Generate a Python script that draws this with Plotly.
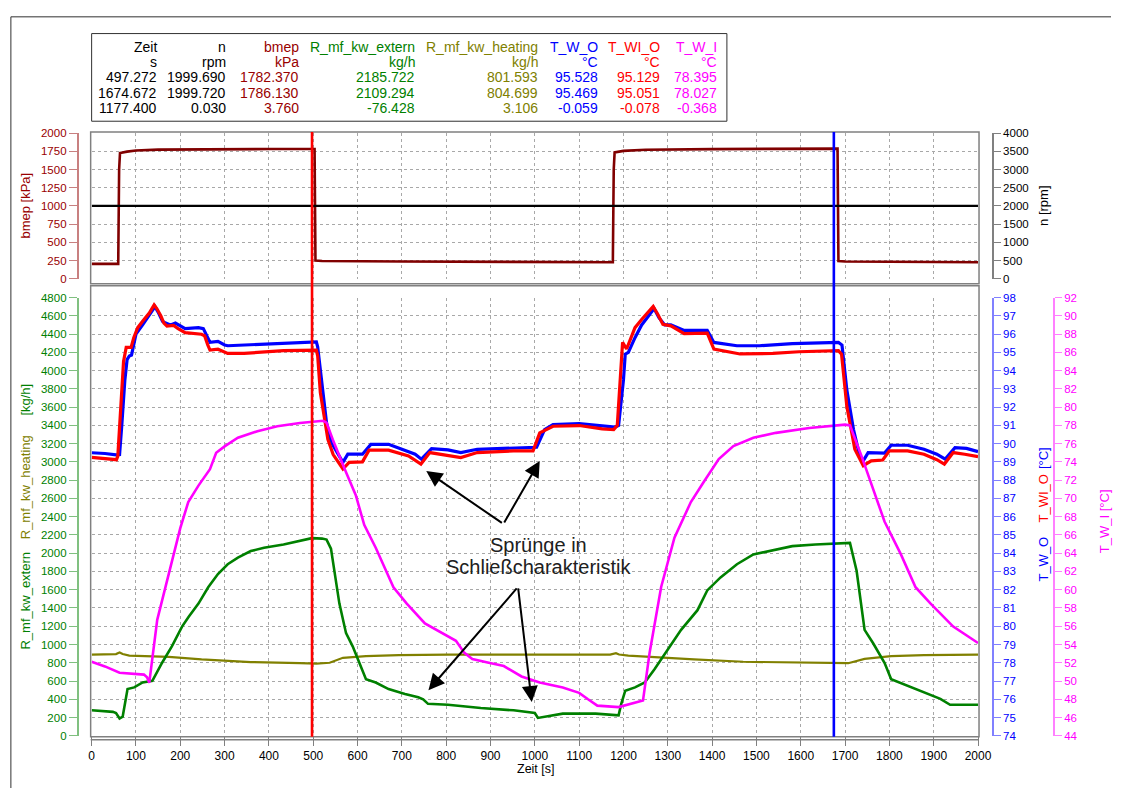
import plotly.graph_objects as go

W, H = 1125, 794

def px_x(p):
    return p / W

def px_y(p):
    return 1 - p / H

# ---------------- data ----------------
# cursors (Zeit [s])
cursor_times = [497.272, 1674.672]

# table
tab_names = ["Zeit", "n", "bmep", "R_mf_kw_extern", "R_mf_kw_heating", "T_W_O", "T_WI_O", "T_W_I"]
tab_units = ["s", "rpm", "kPa", "kg/h", "kg/h", "°C", "°C", "°C"]
tab_cursor1 = [497.272, 1999.690, 1782.370, 2185.722, 801.593, 95.528, 95.129, 78.395]
tab_cursor2 = [1674.672, 1999.720, 1786.130, 2109.294, 804.699, 95.469, 95.051, 78.027]
tab_diff = [1177.400, 0.030, 3.760, -76.428, 3.106, -0.059, -0.078, -0.368]

# n [rpm]
n_t = [0, 500, 1000, 1500, 2000]
n_v = [2000, 2000, 2000, 2000, 2000]

# bmep [kPa]
bmep_t = [0, 60, 62, 64, 80, 100, 150, 250, 400, 500, 503, 505, 520, 700, 1000, 1176,
          1178, 1180, 1200, 1250, 1400, 1680, 1683, 1685, 1700, 2000]
bmep_v = [205, 205, 1500, 1725, 1745, 1760, 1772, 1778, 1781, 1782, 1782, 250, 245, 238, 232, 228,
          1500, 1735, 1755, 1770, 1780, 1786, 1786, 245, 238, 228]

# T_W_O [°C]
two_t = [0, 30, 55, 63, 68, 75, 80, 85, 90, 100, 115, 130, 143, 150, 160, 167, 178, 189, 200, 211,
         241, 252, 260, 267, 285, 300, 307, 344, 396, 433, 507, 510, 521, 530, 541, 559, 567, 578,
         611, 630, 670, 700, 730, 744, 767, 804, 833, 870, 915, 989, 1004, 1022, 1041, 1100, 1152,
         1181, 1189, 1200, 1204, 1211, 1226, 1241, 1256, 1269, 1280, 1293, 1307, 1337, 1389, 1404,
         1456, 1507, 1581, 1685, 1693, 1704, 1719, 1733, 1741, 1752, 1789, 1804, 1841, 1878, 1907,
         1926, 1948, 1974, 2000]
two_v = [89.50, 89.46, 89.38, 89.40, 91.0, 93.5, 94.6, 94.8, 94.85, 96.0, 96.5, 97.06, 97.5, 97.2,
         96.7, 96.6, 96.5, 96.6, 96.45, 96.3, 96.35, 96.3, 95.9, 95.55, 95.6, 95.4, 95.36, 95.4,
         95.45, 95.52, 95.57, 95.3, 92.93, 91.13, 90.05, 89.33, 88.97, 89.42, 89.42, 89.96, 89.96,
         89.69, 89.42, 89.15, 89.73, 89.66, 89.51, 89.69, 89.72, 89.78, 89.8, 90.77, 91.04, 91.09,
         90.99, 90.91, 91.0, 93.5, 94.9, 95.0, 95.8, 96.5, 96.97, 97.4, 96.9, 96.5, 96.5, 96.2, 96.2,
         95.54, 95.36, 95.36, 95.48, 95.54, 95.4, 92.93, 90.77, 89.33, 89.06, 89.51, 89.48, 89.91,
         89.91, 89.69, 89.42, 89.15, 89.78, 89.74, 89.56]

# T_WI_O [°C]
twio_t = [0, 30, 56, 59, 65, 72, 78, 89, 95, 104, 115, 130, 141, 147, 156, 163, 170, 185, 195, 211,
          248, 255, 262, 267, 285, 300, 307, 344, 396, 433, 507, 510, 516, 525, 533, 545, 556, 567,
          581, 611, 626, 670, 715, 743, 763, 804, 833, 870, 952, 996, 1011, 1041, 1100, 1152, 1178,
          1186, 1198, 1207, 1226, 1241, 1267, 1277, 1289, 1307, 1337, 1389, 1404, 1463, 1537, 1596,
          1685, 1692, 1704, 1722, 1741, 1759, 1785, 1800, 1841, 1878, 1907, 1924, 1944, 1970, 2000]
twio_v = [89.25, 89.2, 89.12, 89.3, 92.0, 94.5, 95.27, 95.27, 95.8, 96.35, 96.7, 97.15, 97.6, 97.4,
          97.0, 96.6, 96.43, 96.47, 96.3, 96.08, 95.99, 95.9, 95.4, 95.12, 95.17, 95.0, 94.94, 94.94,
          95.03, 95.09, 95.12, 94.8, 92.8, 91.3, 90.23, 89.4, 88.97, 88.61, 88.97, 89.0, 89.64, 89.64,
          89.33, 88.88, 89.51, 89.33, 89.24, 89.51, 89.6, 89.6, 90.59, 90.95, 90.99, 90.81, 90.77,
          91.0, 95.54, 95.18, 96.35, 96.8, 97.51, 97.1, 96.53, 96.45, 96.02, 96.05, 95.18, 94.91,
          94.94, 95.03, 95.09, 94.9, 92.03, 89.69, 88.79, 89.06, 89.1, 89.6, 89.6, 89.42, 89.12,
          88.88, 89.51, 89.42, 89.29]

# T_W_I [°C]
twi_t = [0, 30, 63, 100, 118, 125, 130, 148, 167, 181, 200, 218, 241, 267, 281, 300, 330, 374, 419,
         470, 522, 530, 544, 574, 596, 615, 641, 681, 711, 752, 804, 822, 841, 859, 896, 930, 970,
         1011, 1063, 1100, 1120, 1141, 1189, 1244, 1259, 1285, 1315, 1352, 1381, 1415, 1448, 1493,
         1544, 1619, 1700, 1711, 1737, 1763, 1789, 1826, 1859, 1893, 1944, 2000]
twi_v = [52.1, 51.6, 50.9, 50.75, 50.7, 50.4, 49.8, 56.7, 60.3, 63.15, 66.75, 69.6, 71.4, 73.2,
         75.0, 75.7, 76.64, 77.36, 77.9, 78.26, 78.5, 78.3, 76.46, 72.86, 70.35, 67.1, 64.6, 60.27,
         58.47, 56.3, 54.88, 54.4, 53.08, 52.4, 52.0, 51.64, 50.5, 49.84, 49.3, 48.7, 48.0, 47.3,
         47.14, 47.86, 53.1, 60.3, 65.7, 69.6, 71.8, 74.3, 75.74, 76.64, 77.18, 77.72, 78.08, 78.0,
         74.66, 71.06, 67.47, 63.87, 60.27, 58.47, 55.96, 54.16]

# R_mf_kw_extern [kg/h]
ext_t = [0, 33, 48, 55, 63, 70, 81, 96, 115, 137, 159, 181, 204, 219, 241, 263, 285, 307, 330, 359,
         389, 433, 470, 497, 520, 530, 540, 548, 559, 574, 589, 604, 619, 641, 670, 707, 737, 748,
         759, 804, 878, 952, 989, 1000, 1007, 1063, 1137, 1189, 1195, 1204, 1226, 1248, 1270, 1300,
         1330, 1367, 1389, 1419, 1456, 1493, 1530, 1581, 1633, 1693, 1711, 1726, 1744, 1763, 1789,
         1804, 1841, 1878, 1915, 1937, 2000]
ext_v = [279, 268, 262, 250, 189, 210, 512, 530, 584, 602, 800, 980, 1196, 1304, 1448, 1627, 1771,
         1879, 1951, 2023, 2059, 2095, 2131, 2165, 2160, 2149, 2050, 1807, 1448, 1124, 980, 800, 620,
         584, 512, 458, 422, 400, 350, 340, 304, 279, 261, 250, 196, 243, 243, 225, 350, 494, 530,
         584, 728, 944, 1160, 1376, 1592, 1735, 1879, 1987, 2023, 2077, 2095, 2113, 2113, 1807,
         1160, 1016, 800, 620, 548, 476, 404, 340, 340]

# R_mf_kw_heating [kg/h]
heat_t = [0, 55, 63, 70, 85, 174, 248, 359, 470, 507, 537, 567, 619, 693, 804, 1011, 1170, 1183,
          1190, 1211, 1285, 1359, 1470, 1581, 1685, 1707, 1744, 1804, 1878, 2000]
heat_v = [890, 895, 912, 895, 879, 865, 836, 807, 797, 790, 800, 854, 872, 883, 890, 890, 890, 905,
          890, 879, 854, 836, 811, 800, 790, 795, 843, 872, 883, 890]

# axis ranges
x_range = [0, 2000]
kg_range = [0, 4800]
two_range = [74, 98]
twi_range = [44, 92]
bmep_range = [0, 2000]
n_range = [0, 4000]

# ---------------- styling ----------------
FONT = "Liberation Sans, Arial, sans-serif"
DRED = "#990000"
DRED_LINE = "#800000"
GREEN = "#008000"
OLIVE = "#808000"
BLUE = "#0000ff"
RED = "#ff0000"
MAG = "#ff00ff"
GRID = "#a8a8a8"
FRAME = "#808080"

fig = go.Figure()

fig.add_trace(go.Scatter(x=heat_t, y=heat_v, xaxis="x", yaxis="y", mode="lines",
                         line=dict(color=OLIVE, width=2.2)))
fig.add_trace(go.Scatter(x=ext_t, y=ext_v, xaxis="x", yaxis="y", mode="lines",
                         line=dict(color=GREEN, width=2.6)))
fig.add_trace(go.Scatter(x=two_t, y=two_v, xaxis="x", yaxis="y2", mode="lines",
                         line=dict(color=BLUE, width=3.2)))
fig.add_trace(go.Scatter(x=twio_t, y=twio_v, xaxis="x", yaxis="y2", mode="lines",
                         line=dict(color=RED, width=3.2)))
fig.add_trace(go.Scatter(x=twi_t, y=twi_v, xaxis="x", yaxis="y3", mode="lines",
                         line=dict(color=MAG, width=2.6)))
fig.add_trace(go.Scatter(x=n_t, y=n_v, xaxis="x2", yaxis="y5", mode="lines",
                         line=dict(color="black", width=2.2)))
fig.add_trace(go.Scatter(x=bmep_t, y=bmep_v, xaxis="x2", yaxis="y4", mode="lines",
                         line=dict(color=DRED_LINE, width=2.6)))

xdom = [px_x(90), px_x(990)]
grid_kw = dict(showgrid=True, gridcolor=GRID, gridwidth=1, griddash="3px,3px", zeroline=False)

def yax(rng, dtick, pos, side, col, linecol, grid=False, **kw):
    d = dict(range=rng, dtick=dtick, tick0=rng[0], anchor="free",
             position=pos, side=side, ticks="outside", ticklen=8, tickwidth=1.3,
             tickcolor=linecol, showline=True, linecolor=linecol, linewidth=2,
             tickfont=dict(family=FONT, size=11.5, color=col), zeroline=False)
    if grid:
        d.update(grid_kw)
    else:
        d["showgrid"] = False
    d.update(kw)
    return d

fig.update_layout(
    width=W, height=H, margin=dict(l=0, r=0, t=0, b=0),
    paper_bgcolor="white", plot_bgcolor="white", showlegend=False,
    font=dict(family=FONT, size=12, color="black"),
    xaxis=dict(domain=xdom, range=x_range, anchor="y", dtick=100, tick0=0, ticks="outside",
               ticklen=9, tickcolor=FRAME, tickwidth=1.3, showline=False,
               tickfont=dict(family=FONT, size=12, color="black"), **grid_kw),
    xaxis2=dict(domain=xdom, range=x_range, anchor="y4", dtick=100, tick0=0, ticks="",
                showticklabels=False, showline=False, **grid_kw),
    yaxis=yax(kg_range, 200, px_x(76), "left", GREEN, "#80c080", grid=True,
              domain=[px_y(741), px_y(296)]),
    yaxis2=yax(two_range, 1, px_x(1005), "right", BLUE, "#8080ff", overlaying="y", ticklen=7),
    yaxis3=yax(twi_range, 2, px_x(1067), "right", MAG, "#ff80ff", overlaying="y", ticklen=7),
    yaxis4=yax(bmep_range, 250, px_x(76), "left", DRED, "#c88080", grid=True,
               domain=[px_y(277), px_y(129)]),
    yaxis5=yax(n_range, 500, px_x(1005), "right", "black", "#808080", overlaying="y4", ticklen=7),
)

shapes = []
def pline(x0, y0, x1, y1, color, width):
    shapes.append(dict(type="line", xref="paper", yref="paper", x0=px_x(x0), y0=px_y(y0),
                       x1=px_x(x1), y1=px_y(y1), line=dict(color=color, width=width)))

def prect(x0, y0, x1, y1, color, width):
    shapes.append(dict(type="rect", xref="paper", yref="paper", x0=px_x(x0), y0=px_y(y0),
                       x1=px_x(x1), y1=px_y(y1), line=dict(color=color, width=width)))

# outer frame
pline(8, 11, 1125, 11, "#303030", 1)
pline(8, 11, 8, 794, "#303030", 1)
# table box
prect(90, 28, 735, 117, "#303030", 1)
# panel frames
prect(89, 128, 991, 282, FRAME, 1.5)
prect(89, 284, 991, 742, FRAME, 1.5)
# x axis line
pline(89, 745, 991, 745, FRAME, 1.5)

# cursors
for ct, col in zip(cursor_times, [RED, BLUE]):
    shapes.append(dict(type="line", xref="x", yref="paper", x0=ct, x1=ct,
                       y0=px_y(742), y1=px_y(128), line=dict(color=col, width=2.6)))

fig.update_layout(shapes=shapes)

ann = []
def ptext(x, y, text, color, size=13, angle=0, xanchor="center"):
    ann.append(dict(xref="paper", yref="paper", x=px_x(x), y=px_y(y), text=text, showarrow=False,
                    textangle=angle, xanchor=xanchor, yanchor="middle",
                    font=dict(family=FONT, size=size, color=color)))

# table
col_right = [158, 228, 303, 420, 545, 606, 669, 727]
col_colors = ["black", "black", DRED, GREEN, OLIVE, BLUE, RED, MAG]
row_y = [41.5, 57, 72.5, 88, 103.5]
rows = [tab_names, tab_units,
        [f"{v:.3f}" for v in tab_cursor1],
        [f"{v:.3f}" for v in tab_cursor2],
        [f"{v:.3f}" for v in tab_diff]]
for ry, row in zip(row_y, rows):
    for xr, col, txt in zip(col_right, col_colors, row):
        ptext(xr, ry, txt, col, size=14, xanchor="right")

# axis titles
ptext(23, 203, "bmep [kPa]", DRED, angle=-90)
ptext(23, 604, "R_mf_kw_extern", GREEN, angle=-90)
ptext(23, 489, "R_mf_kw_heating", OLIVE, angle=-90)
ptext(23, 400, "[kg/h]", GREEN, angle=-90)
ptext(1057, 203, "n [rpm]", "black", angle=-90)
ptext(1056, 562, "T_W_O", BLUE, angle=-90)
ptext(1056, 500, "T_WI_O", RED, angle=-90)
ptext(1056, 459, "[°C]", BLUE, angle=-90)
ptext(1118, 523, "T_W_I [°C]", MAG, angle=-90)
ptext(541, 775, "Zeit [s]", "black", size=12.5)

# annotation text
ptext(544, 547, "Sprünge in", "#202020", size=20)
ptext(544, 570, "Schließcharakteristik", "#202020", size=20)

# arrows (head -> tail in data coords of x / y)
arrows = [((755, 2900), (929, 2320)),
          ((1011, 3010), (929, 2320)),
          ((760, 500), (962, 1630)),
          ((993, 370), (962, 1630))]
for (hx, hy), (tx, ty) in arrows:
    ann.append(dict(xref="x", yref="y", axref="x", ayref="y", x=hx, y=hy, ax=tx, ay=ty,
                    text="", showarrow=True, arrowhead=2, arrowsize=1.6, arrowwidth=2,
                    arrowcolor="black", standoff=0, startstandoff=0))

fig.update_layout(annotations=ann)

fig.write_html("out.html")
